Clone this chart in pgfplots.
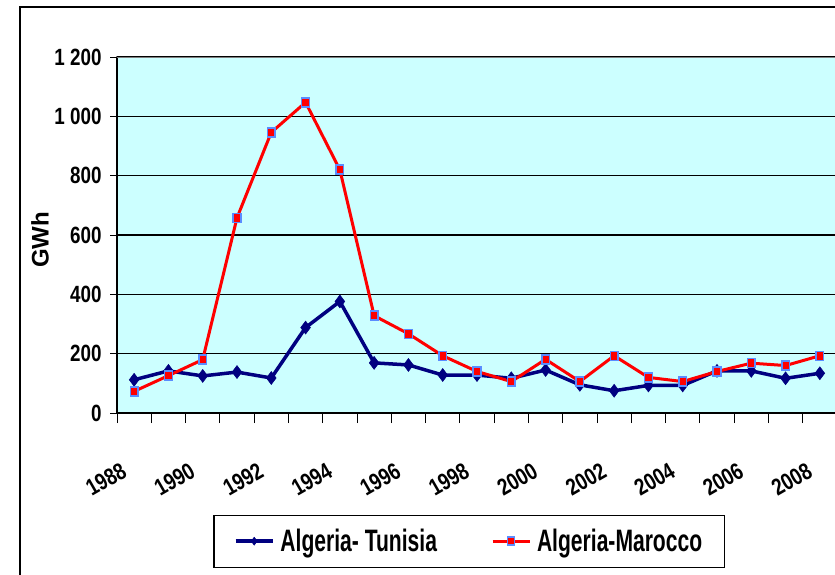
\documentclass[border=0pt]{standalone}
\usepackage{fontspec}
\setmainfont{Liberation Sans}
\newfontfamily\cf[FakeStretch=0.8]{Liberation Sans}
\newfontfamily\lf[FakeStretch=0.68]{Liberation Sans}
\usepackage{pgfplots}
\pgfplotsset{compat=1.18}
\definecolor{bgc}{RGB}{204,255,255}
\definecolor{navyc}{RGB}{0,0,128}
\definecolor{mkb}{RGB}{90,140,255}
\newcommand\tickfont{\cf\bfseries\fontsize{23.5}{28}\selectfont}
\begin{document}
\begin{tikzpicture}
\useasboundingbox (0,0) rectangle (835pt,-574pt);
\draw[line width=1.5pt] (20pt,-580pt) -- (20pt,-7pt) -- (840pt,-7pt);
\begin{axis}[
 at={(117pt,-413pt)}, anchor=south west, scale only axis,
 width=720pt, height=356pt,
 xmin=1987.5, xmax=2008.5, ymin=0, ymax=1200,
 axis background/.style={fill=bgc, draw=gray, line width=1.2pt},
 axis x line*=bottom, axis y line*=left,
 axis line style={line width=1.3pt, black},
 tick align=outside,
 xtick={1988,1990,...,2008},
 xticklabels={1988,1990,1992,1994,1996,1998,2000,2002,2004,2006,2008},
 major x tick style={draw=none},
 minor xtick={1987.5,1988.5,...,2008.5},
 minor tick length=10pt,
 major tick length=7pt,
 every tick/.style={black, line width=1pt},
 ytick={0,200,...,1200},
 yticklabels={0,200,400,600,800,1 000,1 200},
 ymajorgrids, grid style={black, line width=1.3pt},
 tick label style={font=\tickfont},
 yticklabel style={xshift=-5pt},
 xticklabel style={yshift=-47pt, xshift=-7pt, rotate=30, anchor=east},
 ylabel={GWh}, ylabel style={font=\bfseries\fontsize{24}{28}\selectfont, at={(axis description cs:-0.107,0.486)}, anchor=center},
 legend columns=2,
 legend style={at={(0.489,-0.36)}, anchor=center, draw=black, line width=1.2pt,
   font=\lf\bfseries\fontsize{31}{36}\selectfont, inner xsep=20pt, inner ysep=12pt,
   /tikz/every odd column/.append style={column sep=4pt},
   /tikz/every even column/.append style={column sep=52pt}},
 legend image code/.code={\draw[mark repeat=2,mark phase=2,mark size=4pt] plot coordinates {(0pt,0pt) (18.5pt,0pt) (37pt,0pt)};},
]
\addplot[navyc, line width=3.5pt, mark=diamond*, mark size=6.5pt, mark options={fill=navyc, draw=navyc, line width=0.5pt}] coordinates {
(1988,112) (1989,142) (1990,125) (1991,138) (1992,118) (1993,288) (1994,376)
(1995,169) (1996,162) (1997,128) (1998,128) (1999,117) (2000,145) (2001,95)
(2002,75) (2003,93) (2004,93) (2005,142) (2006,142) (2007,117) (2008,134)};
\addlegendentry{Algeria- Tunisia}
\addplot[red, line width=3pt, mark=square*, mark size=4.5pt, mark options={xscale=0.85, fill=red, draw=mkb, line width=1.5pt}] coordinates {
(1988,73) (1989,126) (1990,180) (1991,658) (1992,946) (1993,1047) (1994,820)
(1995,328) (1996,267) (1997,193) (1998,140) (1999,106) (2000,181) (2001,106)
(2002,193) (2003,120) (2004,106) (2005,140) (2006,168) (2007,160) (2008,193)};
\addlegendentry{Algeria-Marocco}
\draw[gray, line width=1.2pt] (rel axis cs:0,1) -- (rel axis cs:1,1);
\end{axis}
\end{tikzpicture}
\end{document}
